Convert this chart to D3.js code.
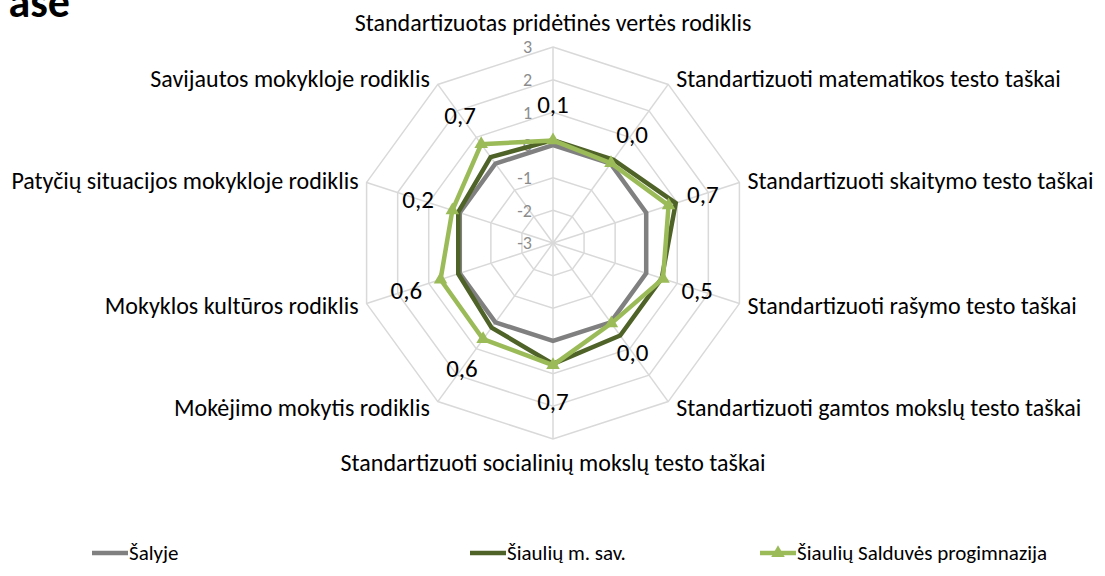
<!DOCTYPE html>
<html>
<head>
<meta charset="utf-8">
<title>Radar</title>
<script src="https://d3js.org/d3.v7.min.js"></script>
<style>
  body { margin: 0; background: #fff; }
  svg { display: block; font-family: Carlito, Lato, "Open Sans", sans-serif; }
</style>
</head>
<body>
<div id="chart"></div>
<script>
// chart data
const categories = [
  "Standartizuotas pridėtinės vertės rodiklis",
  "Standartizuoti matematikos testo taškai",
  "Standartizuoti skaitymo testo taškai",
  "Standartizuoti rašymo testo taškai",
  "Standartizuoti gamtos mokslų testo taškai",
  "Standartizuoti socialinių mokslų testo taškai",
  "Mokėjimo mokytis rodiklis",
  "Mokyklos kultūros rodiklis",
  "Patyčių situacijos mokykloje rodiklis",
  "Savijautos mokykloje rodiklis"
];
const seriesNames = ["Šalyje", "Šiaulių m. sav.", "Šiaulių Salduvės progimnazija"];
const salyje      = [0, 0, 0, 0, 0, 0, 0, 0, 0, 0];
const savivaldybe = [0.15, 0.15, 0.95, 0.5, 0.5, 0.7, 0.2, 0.05, 0.05, 0.25];
const mokykla     = [0.14, 0.02, 0.72, 0.54, 0.04, 0.74, 0.64, 0.62, 0.24, 0.74];
const ticks = [-3, -2, -1, 0, 1, 2, 3];

const W = 1105, H = 576;
const cx = 553, cy = 243, R = 196;
const colors = ["#808080", "#4f6228", "#9bbb59"];

const svg = d3.select("#chart").append("svg")
  .attr("width", W).attr("height", H);

const r = d3.scaleLinear().domain([-3, 3]).range([0, R]);
const angle = d3.scaleLinear().domain([0, categories.length]).range([0, 2 * Math.PI]);
const pt = (i, v) => [cx + r(v) * Math.sin(angle(i)), cy - r(v) * Math.cos(angle(i))];

// title fragment (cut off at the left edge)
svg.append("text")
  .attr("x", 70).attr("y", 17)
  .attr("text-anchor", "end")
  .style("font-weight", "bold").style("font-size", "44px")
  .text("ase");

// grid
const grid = svg.append("g").attr("stroke", "#d9d9d9").attr("stroke-width", 1.5).attr("fill", "none");
ticks.slice(1).forEach(t => {
  grid.append("path")
    .attr("d", d3.line()(categories.map((c, i) => pt(i, t))) + "Z");
});
categories.forEach((c, i) => {
  const p = pt(i, 3);
  grid.append("line").attr("x1", cx).attr("y1", cy).attr("x2", p[0]).attr("y2", p[1]);
});

// tick labels
svg.append("g").selectAll("text").data(ticks).join("text")
  .attr("x", cx - 21).attr("y", d => cy - r(d))
  .attr("dy", "0.35em").attr("text-anchor", "end")
  .style("font-size", "18px").style("fill", "#8c8c8c")
  .text(d => d);

// series
const allSeries = [salyje, savivaldybe, mokykla];
const line = d3.line().curve(d3.curveLinearClosed);
allSeries.forEach((vals, s) => {
  svg.append("path")
    .attr("d", line(vals.map((v, i) => pt(i, v))))
    .attr("fill", "none").attr("stroke", colors[s])
    .attr("stroke-width", 4.5).attr("stroke-linejoin", "miter");
});
const tri = d3.symbol().type(d3.symbolTriangle).size(80);
svg.append("g").selectAll("path").data(mokykla).join("path")
  .attr("transform", (d, i) => `translate(${pt(i, d)})`)
  .attr("d", tri).attr("fill", colors[2]);

// data labels for the school series
const fmt = v => d3.format(".1f")(v).replace(".", ",");
svg.append("g").selectAll("text").data(mokykla).join("text")
  .attr("x", (d, i) => pt(i, d)[0] + 36 * Math.sin(angle(i)))
  .attr("y", (d, i) => pt(i, d)[1] - 36 * Math.cos(angle(i)))
  .attr("dy", "0.35em").attr("text-anchor", "middle")
  .style("font-size", "25px").style("fill", "#000")
  .text(fmt);

// category labels
svg.append("g").selectAll("text").data(categories).join("text")
  .each(function (d, i) {
    const p = pt(i, 3);
    const s = Math.sin(angle(i)), c = Math.cos(angle(i));
    const el = d3.select(this);
    let anchor = "middle", x = p[0], y = p[1];
    if (Math.abs(s) < 0.01) { y += c > 0 ? -24 : 24; }
    else { anchor = s > 0 ? "start" : "end"; x += s > 0 ? 8 : -8; y -= 7.5 * c; }
    el.attr("x", x).attr("y", y).attr("dy", "0.35em").attr("text-anchor", anchor);
  })
  .style("font-size", "24px").style("fill", "#000")
  .text(d => d);

// legend
const legendX = [92, 470, 760];
const lg = svg.append("g");
seriesNames.forEach((n, s) => {
  const g = lg.append("g").attr("transform", `translate(${legendX[s]},553)`);
  g.append("line").attr("x1", 0).attr("x2", 36).attr("stroke", colors[s]).attr("stroke-width", 4.5);
  if (s === 2) g.append("path").attr("transform", "translate(18,0)").attr("d", tri).attr("fill", colors[s]);
  g.append("text").attr("x", 37).attr("dy", "0.35em").style("font-size", "21px").text(n);
});
</script>
</body>
</html>
